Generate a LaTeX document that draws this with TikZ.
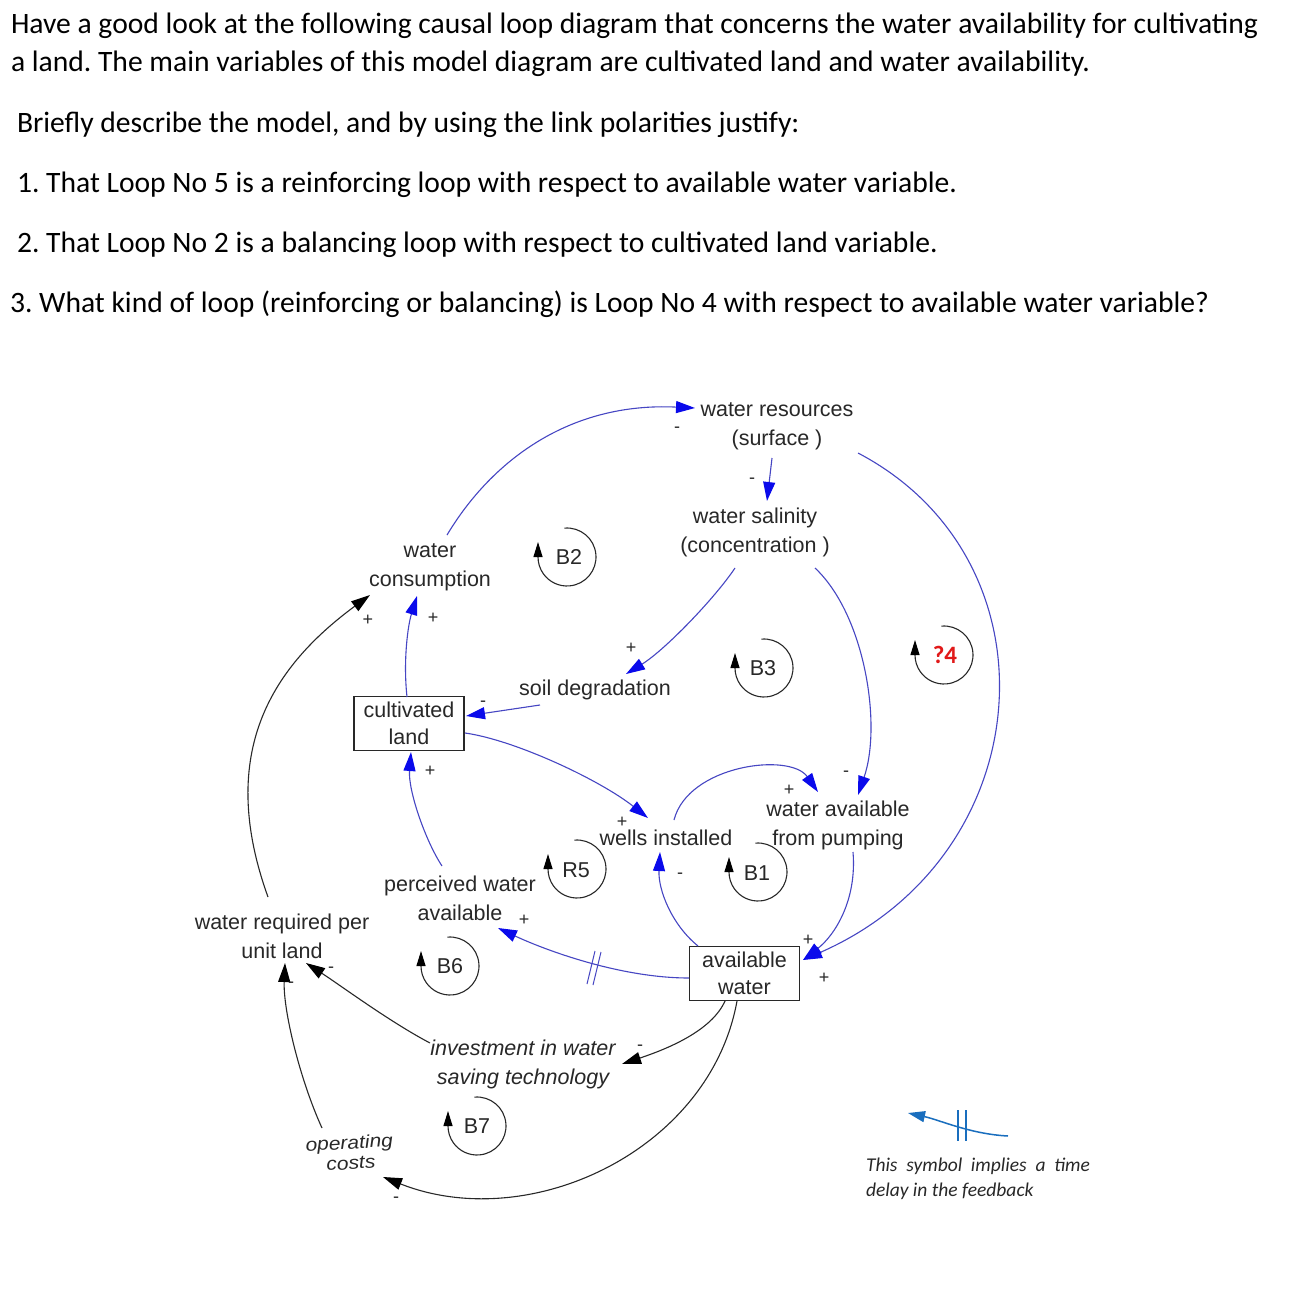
\documentclass[tikz,border=0pt]{standalone}
\usepackage{fontspec}
\setmainfont{Carlito}
\newfontfamily\arialf{Liberation Sans}
\usetikzlibrary{arrows.meta,calc}
\definecolor{lnblue}{RGB}{70,70,195}
\definecolor{hdblue}{RGB}{10,10,235}
\definecolor{lgblue}{RGB}{25,110,190}
\definecolor{qred}{RGB}{225,25,25}
\definecolor{ink}{RGB}{40,40,40}
\frenchspacing
\begin{document}
\begin{tikzpicture}[x=1pt,y=-1pt,
  every node/.style={inner sep=0pt, outer sep=0pt},
  var/.style={font=\arialf\fontsize{21.5}{29}\selectfont, align=center, text=ink},
  ivar/.style={var, font=\arialf\itshape\fontsize{21.5}{29}\selectfont},
  stock/.style={var, draw=ink, line width=1.2pt, minimum width=110pt, minimum height=54pt, font=\arialf\fontsize{21.5}{26.5}\selectfont},
  bl/.style={draw=lnblue, line width=1.1pt, -{Triangle[length=19pt,width=12pt,color=hdblue]}},
  kl/.style={draw=ink, line width=1.1pt, -{Triangle[length=19pt,width=12pt,color=black]}},
  sgn/.style={font=\arialf\fontsize{18}{18}\selectfont, text=ink},
  looplab/.style={font=\arialf\fontsize{21.5}{26}\selectfont, text=ink},
  looparc/.style={draw=ink, line width=1.1pt, -{Triangle[length=15pt,width=9pt,color=black]}},
  qtext/.style={font=\fontsize{29.6}{37}\selectfont, anchor=base west},
]
\fill[white] (0,0) rectangle (1306,1295);
\useasboundingbox (0,0) rectangle (1306,1295);

% question text
\node[qtext] (t1) at (11,34) {Have a good look at the following causal loop diagram that concerns the water availability for cultivating};
\node[qtext] (t2) at (11,72) {a land. The main variables of this model diagram are cultivated land and water availability.};
\node[qtext] (t3) at (17,132) {Briefly describe the model, and by using the link polarities justify:};
\node[qtext] (t4) at (17,192) {1. That Loop No 5 is a reinforcing loop with respect to available water variable.};
\node[qtext] (t5) at (17,252) {2. That Loop No 2 is a balancing loop with respect to cultivated land variable.};
\node[qtext] (t6) at (10,312) {3. What kind of loop (reinforcing or balancing) is Loop No 4 with respect to available water variable?};

% variables
\node[var] (wr) at (777,426.5) {water resources\\(surface )};
\node[var] (ws) at (755,532.5) {water salinity\\(concentration )};
\node[var] (wc) at (430,567.5) {water\\consumption};
\node[var] (sd) at (595,690) {soil degradation};
\node[stock] (cl) at (409,723.5) {cultivated\\land};
\node[var] (wi) at (666,838) {wells installed};
\node[var] (wap) at (838,825) {water available\\from pumping};
\node[var] (pwa) at (460,898) {perceived water\\available};
\node[var] (wru) at (282,936.5) {water required per\\unit land};
\node[stock] (aw) at (744.5,973.5) {available\\water};
\node[ivar] (iw) at (523,1064.5) {investment in water\\saving technology};
\node[ivar, font=\arialf\itshape\fontsize{21}{23}\selectfont, yscale=0.88, rotate=4] (oc) at (350,1152.5) {operating\\costs};

% links
\draw[bl] ($(wc)+(17,-32.5)$) .. controls (492,460) and (570,402) .. ($(wr)+(-82,-18.5)$);
\draw[bl] ($(wr)+(-5,31.5)$) -- ($(ws)+(12,-31.5)$);
\draw[bl] ($(ws)+(-20,35.5)$) .. controls (715,598) and (665,650) .. ($(sd)+(31,-16)$);
\draw[bl] ($(ws)+(60,35.5)$) .. controls (865,615) and (882,725) .. ($(wap)+(20,-30)$);
\draw[bl] ($(wr)+(81,26.5)$) .. controls (1062,560) and (1042,855) .. ($(aw)+(58.5,-13.5)$);
\draw[bl] ($(wap)+(15,27)$) .. controls (857,900) and (835,935) .. ($(aw)+(58.5,-13.5)$);
\draw[bl] ($(wi)+(8,-18)$) .. controls (688,765) and (790,752) .. ($(wap)+(-20,-33)$);
\draw[bl] ($(cl)+(56,9.5)$) .. controls (515,740) and (600,780) .. ($(wi)+(-18,-20)$);
\draw[bl] ($(sd)+(-55,15)$) -- ($(cl)+(57,-7.5)$);
\draw[bl] ($(cl)+(-2,-26.5)$) .. controls (403,660) and (408,625) .. ($(wc)+(-13,28.5)$);
\draw[kl] ($(wru)+(-14,-39.5)$) .. controls (215,750) and (275,665) .. ($(wc)+(-60,27.5)$);
\draw[bl] ($(pwa)+(-18,-32)$) .. controls (425,840) and (408,790) .. ($(cl)+(2,28.5)$);
\draw[bl] ($(aw)+(-55.5,4.5)$) .. controls (620,978) and (545,950) .. ($(pwa)+(38,30)$);
\draw[bl] ($(aw)+(-46.5,-27.5)$) .. controls (672,925) and (658,890) .. ($(wi)+(-6,14)$);
\draw[kl] ($(aw)+(-19.5,27.5)$) .. controls (712,1030) and (670,1048) .. ($(iw)+(99,-0.5)$);
\draw[kl] ($(iw)+(-93,-21.5)$) .. controls (390,1022) and (340,985) .. ($(wru)+(24,26.5)$);
\draw[kl] ($(aw)+(-7.5,27.5)$) .. controls (710,1150) and (530,1235) .. ($(oc)+(33,24.5)$);
\draw[kl] ($(oc)+(-28,-24.5)$) .. controls (300,1080) and (283,1010) .. ($(wru)+(3,26.5)$);

% delay mark on available water -> perceived water available
\draw[lnblue, line width=1pt] (587,984) -- (595,951) (593,985) -- (601,952);

% polarities
\node[sgn] (s1) at (677,430) {-};
\node[sgn] (s2) at (752,481) {-};
\node[sgn] (s3) at (631,648) {+};
\node[sgn] (s4) at (846,774) {-};
\node[sgn] (s5) at (824,978) {+};
\node[sgn] (s6) at (808,940) {+};
\node[sgn] (s7) at (789,790) {+};
\node[sgn] (s8) at (622,822) {+};
\node[sgn] (s9) at (483,704) {-};
\node[sgn] (s10) at (433,618) {+};
\node[sgn] (s11) at (368,620) {+};
\node[sgn] (s12) at (430,771) {+};
\node[sgn] (s13) at (524,920) {+};
\node[sgn] (s14) at (680,876) {-};
\node[sgn] (s15) at (640,1048) {-};
\node[sgn] (s16) at (331,970) {-};
\node[sgn] (s17) at (396,1200) {-};
\node[sgn] (s18) at (291,985) {-};

% loop markers
\node[looplab] (lb2) at (569,557) {B2};
\node[looplab] (lb3) at (763,668) {B3};
\node[font=\bfseries\fontsize{25}{25}\selectfont, text=qred] (lq4) at (945,655) {?4};
\node[looplab] (lr5) at (576,870) {R5};
\node[looplab] (lb1) at (757,873) {B1};
\node[looplab] (lb6) at (450,966) {B6};
\node[looplab] (lb7) at (477,1126) {B7};
\foreach \n/\cx/\cy in {lb2/567/557, lb3/764/668, lq4/944/655, lr5/577/869, lb1/758/872, lb6/450/966, lb7/477/1126}{
  \draw[looparc] (\cx,\cy) ++(-95:29) arc[start angle=-95, end angle=180, radius=29] -- ++(0,-15);
}

% legend
\coordinate (lgS) at (1008,1136);
\coordinate (lgE) at (908,1113);
\draw[lgblue, line width=1.5pt, -{Triangle[length=17pt,width=11pt]}] (lgS) .. controls (970,1134) and (940,1120) .. (lgE);
\draw[lgblue, line width=1.3pt] (958,1110) -- (958,1141) (966,1110) -- (966,1141);
\node[anchor=base west, font=\itshape\fontsize{19.5}{24}\selectfont, text=ink] (lg1) at (866,1171) {\makebox[224pt][s]{This symbol implies a time}};
\node[anchor=base west, font=\itshape\fontsize{19.5}{24}\selectfont, text=ink] (lg2) at (866,1196) {delay in the feedback};
\end{tikzpicture}
\end{document}
